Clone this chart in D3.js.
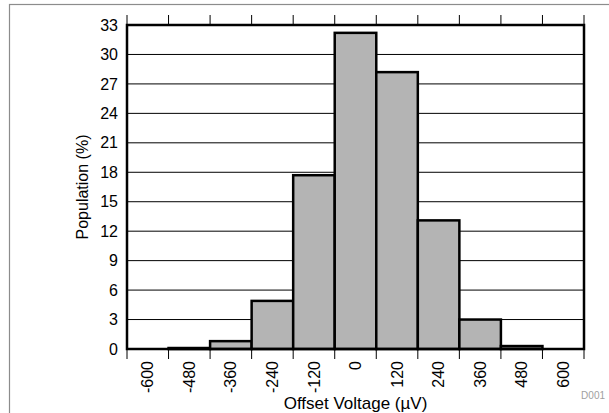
<!DOCTYPE html>
<html>
<head>
<meta charset="utf-8">
<script src="https://cdn.jsdelivr.net/npm/d3@7"></script>
<style>
  body { margin: 0; background: #fff; }
  text { font-family: Arial, "Liberation Sans", sans-serif; fill: #000; }
</style>
</head>
<body>
<div class="canvas"></div>
<script>
// DATA -------------------------------------------------------------------------
const categories = ['-600', '-480', '-360', '-240', '-120', '0', '120', '240', '360', '480', '600'];
const population = [0, 0.1, 0.8, 4.9, 17.7, 32.2, 28.2, 13.1, 3.0, 0.3, 0];
const yTicks = [0, 3, 6, 9, 12, 15, 18, 21, 24, 27, 30, 33];

// SET UP -----------------------------------------------------------------------
const width = 609, height = 413;
const margin = { top: 25, right: 25, bottom: 64, left: 127 };
const graphWidth = width - margin.left - margin.right;
const graphHeight = height - margin.top - margin.bottom;
const labelFont = '16px Arial, "Liberation Sans", sans-serif';

const svg = d3.select('.canvas')
    .append('svg')
        .attr('width', width)
        .attr('height', height);

// outer gray frame (runs off the right / bottom edges)
svg.append('rect')
    .attr('x', 9.5).attr('y', 4.5)
    .attr('width', 620).attr('height', 430)
    .attr('fill', 'none')
    .attr('stroke', '#8c8c8c')
    .attr('stroke-width', 1.2);

const graph = svg.append('g')
    .attr('transform', `translate(${margin.left}, ${margin.top})`);

const x = d3.scaleBand()
    .domain(categories)
    .range([0, graphWidth])
    .paddingInner(0)
    .paddingOuter(0);

const y = d3.scaleLinear()
    .domain([0, 33])
    .range([graphHeight, 0]);

// gridlines
graph.append('g')
    .selectAll('line')
    .data(yTicks)
    .enter().append('line')
        .attr('x1', 0).attr('x2', graphWidth)
        .attr('y1', d => y(d)).attr('y2', d => y(d))
        .attr('stroke', '#000')
        .attr('stroke-width', 1);

// bars
graph.append('g')
    .selectAll('rect')
    .data(population)
    .enter().append('rect')
        .attr('x', (d, i) => x(categories[i]))
        .attr('y', d => y(d))
        .attr('width', x.bandwidth())
        .attr('height', d => graphHeight - y(d))
        .attr('fill', '#b4b4b4')
        .attr('stroke', '#000')
        .attr('stroke-width', 2.5);

// plot frame
graph.append('rect')
    .attr('x', 0).attr('y', 0)
    .attr('width', graphWidth).attr('height', graphHeight)
    .attr('fill', 'none')
    .attr('stroke', '#000')
    .attr('stroke-width', 2.5);

// tick marks on band boundaries, top and bottom
const bounds = categories.map(c => x(c)).concat([x(categories[categories.length - 1]) + x.bandwidth()]);
graph.append('g')
    .selectAll('line')
    .data(bounds)
    .enter().append('line')
        .attr('x1', d => d).attr('x2', d => d)
        .attr('y1', -10).attr('y2', 0)
        .attr('stroke', '#000');
graph.append('g')
    .selectAll('line')
    .data(bounds)
    .enter().append('line')
        .attr('x1', d => d).attr('x2', d => d)
        .attr('y1', graphHeight).attr('y2', graphHeight + 10)
        .attr('stroke', '#000');

// x axis labels (rotated, centred on bars)
const xAxis = d3.axisBottom(x).tickSize(0).tickPadding(0);
const xAxisGroup = graph.append('g')
    .attr('transform', `translate(0, ${graphHeight})`)
    .call(xAxis);
xAxisGroup.select('.domain').remove();
xAxisGroup.selectAll('text')
    .attr('transform', 'rotate(-90)')
    .attr('text-anchor', 'end')
    .attr('x', -12)
    .attr('y', 0)
    .attr('dy', '0.35em')
    .style('font', labelFont);

// y axis labels
const yAxis = d3.axisLeft(y).tickValues(yTicks).tickSize(0).tickPadding(9);
const yAxisGroup = graph.append('g').call(yAxis);
yAxisGroup.select('.domain').remove();
yAxisGroup.selectAll('text')
    .style('font', labelFont);

// axis titles
svg.append('text')
    .attr('text-anchor', 'middle')
    .attr('x', margin.left + graphWidth / 2)
    .attr('y', 409)
    .text('Offset Voltage (µV)')
    .style('font', '17px Arial, "Liberation Sans", sans-serif');

svg.append('text')
    .attr('text-anchor', 'middle')
    .attr('transform', `translate(88, ${margin.top + graphHeight / 2}) rotate(-90)`)
    .text('Population (%)')
    .style('font', labelFont);

svg.append('text')
    .attr('text-anchor', 'end')
    .attr('x', 605)
    .attr('y', 399)
    .text('D001')
    .style('font', '10px Arial, "Liberation Sans", sans-serif')
    .style('fill', '#a0a0a0');
</script>
</body>
</html>
